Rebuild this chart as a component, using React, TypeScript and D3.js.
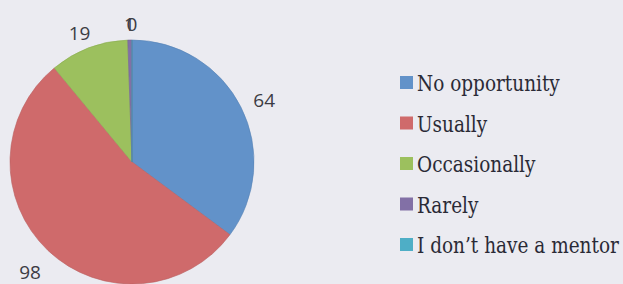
import React, { useEffect, useRef } from "react";
import * as d3 from "d3";

const categories = [
  "No opportunity",
  "Usually",
  "Occasionally",
  "Rarely",
  "I don\u2019t have a mentor",
];
const values = [64, 98, 19, 1, 0];
const colors = ["#6292c9", "#cf6a6b", "#9cc05e", "#8270a6", "#4eaec6"];

const WIDTH = 623;
const HEIGHT = 284;

const App = () => {
  const chartRef = useRef<SVGSVGElement | null>(null);

  useEffect(() => {
    const svg = d3.select(chartRef.current);
    svg.selectAll("*").remove();

    // background
    svg
      .append("rect")
      .attr("width", WIDTH)
      .attr("height", HEIGHT)
      .attr("fill", "#ebebf1");

    const cx = 132;
    const cy = 162;
    const radius = 122;

    const pie = d3
      .pie<number>()
      .sort(null)
      .value((d) => d);
    const arcs = pie(values);

    const arc = d3.arc<d3.PieArcDatum<number>>().innerRadius(0).outerRadius(radius);

    const g = svg.append("g").attr("transform", `translate(${cx},${cy})`);

    g.selectAll("path.slice")
      .data(arcs)
      .join("path")
      .attr("class", "slice")
      .attr("d", arc)
      .attr("fill", (d, i) => colors[i])
      .attr("stroke", (d, i) => d3.color(colors[i])!.darker(0.3).formatHex())
      .attr("stroke-width", 0.6);

    // data labels, outside end (excel pushes top ones closer to the rim)
    const labelPos = (d: d3.PieArcDatum<number>) => {
      const a = (d.startAngle + d.endAngle) / 2;
      const sx = Math.sin(a);
      const cy2 = Math.cos(a);
      const ry = cy2 > 0 ? radius + 16 : radius + 30;
      return [sx * (radius + 26), -cy2 * ry];
    };

    g.selectAll("text.label")
      .data(arcs)
      .join("text")
      .attr("class", "label")
      .attr("transform", (d) => {
        const [x, y] = labelPos(d);
        return `translate(${x},${y})`;
      })
      .attr("text-anchor", "middle")
      .attr("dy", "0.35em")
      .attr("font-family", "Open Sans")
      .attr("font-size", 19)
      .attr("fill", "#3c3c44")
      .text((d) => d.data);

    // legend (times-like look: dejavu serif squeezed a bit)
    const legend = svg.append("g").attr("transform", "translate(400,83)");
    const rowGap = 40.5;

    const rows = legend
      .selectAll("g.row")
      .data(categories)
      .join("g")
      .attr("class", "row")
      .attr("transform", (d, i) => `translate(0,${i * rowGap})`);

    rows
      .append("rect")
      .attr("x", 0)
      .attr("y", -7)
      .attr("width", 13)
      .attr("height", 13)
      .attr("fill", (d, i) => colors[i]);

    rows
      .append("text")
      .attr("transform", "translate(17,8) scale(0.84,1)")
      .attr("font-family", "DejaVu Serif")
      .attr("font-size", 22)
      .attr("fill", "#2a2a36")
      .text((d) => d);
  }, []);

  return (
    <svg
      ref={chartRef}
      width={WIDTH}
      height={HEIGHT}
      style={{ position: "absolute", left: 0, top: 0 }}
    />
  );
};

export default App;
